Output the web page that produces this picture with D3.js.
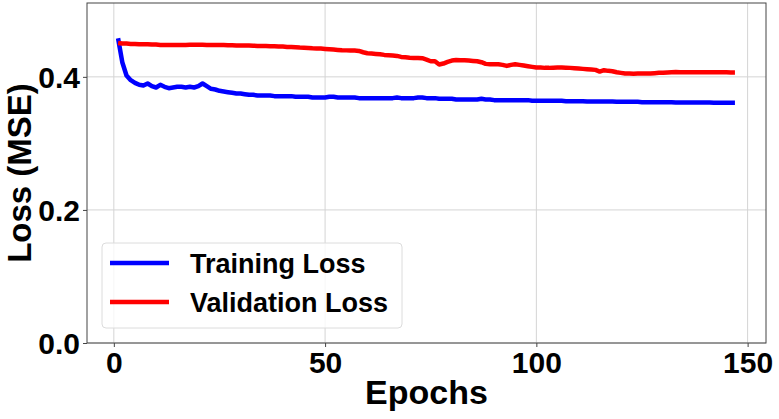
<html>
<head>
<meta charset="utf-8">
<script src="https://cdn.jsdelivr.net/npm/d3@7"></script>
<style>
  body { margin: 0; background: #fff; }
  text { font-family: "Liberation Sans", Arial, sans-serif; font-weight: bold; fill: #000; }
</style>
</head>
<body>
<script>
/* training history */
var epochs = d3.range(1, 148);

var trainLoss = [
  0.458, 0.422, 0.402, 0.395, 0.391, 0.388, 0.387, 0.390, 0.386, 0.384,
  0.388, 0.385, 0.383, 0.384, 0.385, 0.385, 0.384, 0.385, 0.384, 0.386,
  0.390, 0.386, 0.382, 0.381, 0.379, 0.378, 0.377, 0.376, 0.375, 0.375,
  0.374, 0.373, 0.373, 0.372, 0.372, 0.372, 0.372, 0.371, 0.371, 0.371,
  0.371, 0.371, 0.370, 0.370, 0.370, 0.370, 0.369, 0.369, 0.369, 0.369,
  0.370, 0.370, 0.369, 0.369, 0.369, 0.369, 0.369, 0.368, 0.368, 0.368,
  0.368, 0.368, 0.368, 0.368, 0.368, 0.368, 0.369, 0.368, 0.368, 0.368,
  0.368, 0.369, 0.369, 0.368, 0.368, 0.368, 0.367, 0.367, 0.367, 0.367,
  0.366, 0.366, 0.366, 0.366, 0.366, 0.366, 0.367, 0.366, 0.366, 0.365,
  0.365, 0.365, 0.365, 0.365, 0.365, 0.365, 0.365, 0.365, 0.364, 0.364,
  0.364, 0.364, 0.364, 0.364, 0.364, 0.364, 0.3635, 0.3635, 0.3635, 0.3635,
  0.3635, 0.363, 0.363, 0.363, 0.363, 0.363, 0.363, 0.363, 0.3625, 0.3625,
  0.3625, 0.3625, 0.3625, 0.3625, 0.362, 0.362, 0.362, 0.362, 0.362, 0.362,
  0.362, 0.362, 0.3615, 0.3615, 0.3615, 0.3615, 0.3615, 0.3615, 0.3615, 0.3615,
  0.3615, 0.361, 0.361, 0.361, 0.361, 0.361, 0.361
];

var valLoss = [
  0.451, 0.450, 0.450, 0.4495, 0.4495, 0.449, 0.449, 0.449, 0.4485, 0.4485,
  0.448, 0.448, 0.448, 0.448, 0.448, 0.448, 0.448, 0.4482, 0.4482, 0.4482,
  0.4482, 0.448, 0.448, 0.448, 0.448, 0.4478, 0.4475, 0.4475, 0.4472, 0.447,
  0.447, 0.447, 0.4468, 0.4465, 0.4465, 0.4462, 0.446, 0.446, 0.4458, 0.4455,
  0.445, 0.445, 0.4445, 0.444, 0.4438, 0.4435, 0.443, 0.4428, 0.4425, 0.442,
  0.4415, 0.441, 0.4405, 0.440, 0.4398, 0.4395, 0.4395, 0.439, 0.437, 0.4355,
  0.435, 0.4345, 0.434, 0.433, 0.4325, 0.432, 0.4315, 0.430, 0.4295, 0.4288,
  0.4285, 0.4285, 0.428, 0.426, 0.4235, 0.4235, 0.4185, 0.420, 0.4225, 0.4245,
  0.4252, 0.425, 0.425, 0.4245, 0.424, 0.4235, 0.422, 0.4195, 0.419, 0.419,
  0.419, 0.418, 0.4165, 0.418, 0.419, 0.418, 0.417, 0.416, 0.415, 0.414,
  0.414, 0.4135, 0.4135, 0.4138, 0.414, 0.414, 0.4138, 0.4135, 0.413, 0.4125,
  0.412, 0.4115, 0.411, 0.4105, 0.408, 0.410, 0.409, 0.4085, 0.407, 0.406,
  0.405, 0.405, 0.4048, 0.405, 0.405, 0.405, 0.405, 0.4055, 0.406, 0.406,
  0.4065, 0.407, 0.4072, 0.407, 0.407, 0.407, 0.407, 0.4068, 0.4068, 0.4068,
  0.407, 0.4068, 0.407, 0.4068, 0.4068, 0.4066, 0.4066
];

var xTicks = [0, 50, 100, 150];
var yTicks = [0.0, 0.2, 0.4];
var seriesNames = ["Training Loss", "Validation Loss"];
var seriesColors = ["#0000ff", "#ff0000"];

var W = 779, H = 419;
var plotL = 87, plotR = 766, plotT = 3, plotB = 343;

var svg = d3.select("body").append("svg")
    .attr("width", W)
    .attr("height", H);

var x = d3.scaleLinear().domain([-6.35, 154.35]).range([plotL, plotR]);
var y = d3.scaleLinear().domain([0, 0.511]).range([plotB, plotT]);

/* grid */
svg.append("g").selectAll("line").data(xTicks).enter().append("line")
    .attr("x1", function(d) { return x(d); }).attr("x2", function(d) { return x(d); })
    .attr("y1", plotT).attr("y2", plotB)
    .attr("stroke", "#d4d4d4").attr("stroke-width", 1);
svg.append("g").selectAll("line").data(yTicks).enter().append("line")
    .attr("x1", plotL).attr("x2", plotR)
    .attr("y1", function(d) { return y(d); }).attr("y2", function(d) { return y(d); })
    .attr("stroke", "#d4d4d4").attr("stroke-width", 1);

/* lines */
var line = d3.line()
    .x(function(d) { return x(d[0]); })
    .y(function(d) { return y(d[1]); });

[trainLoss, valLoss].forEach(function(vals, i) {
    svg.append("path")
        .datum(epochs.map(function(e, j) { return [e, vals[j]]; }))
        .attr("fill", "none")
        .attr("stroke", seriesColors[i])
        .attr("stroke-width", 4.5)
        .attr("stroke-linejoin", "round")
        .attr("d", line);
});

/* axes */
var xAxis = svg.append("g")
    .attr("transform", "translate(0," + plotB + ")")
    .call(d3.axisBottom(x).tickValues(xTicks).tickSize(4).tickPadding(5).tickFormat(d3.format("d")));
var yAxis = svg.append("g")
    .attr("transform", "translate(" + plotL + ",0)")
    .call(d3.axisLeft(y).tickValues(yTicks).tickSize(4).tickPadding(3).tickFormat(d3.format(".1f")));

[xAxis, yAxis].forEach(function(a) {
    a.select(".domain").remove();
    a.selectAll(".tick line").attr("stroke", "#444");
    a.selectAll("text").style("font-size", "30px").attr("fill", "#000");
});
yAxis.selectAll("text").attr("dy", "0.36em");

/* frame */
svg.append("rect")
    .attr("x", plotL).attr("y", plotT)
    .attr("width", plotR - plotL).attr("height", plotB - plotT)
    .attr("fill", "none").attr("stroke", "#444").attr("stroke-width", 1);

/* axis labels */
svg.append("text")
    .attr("x", (plotL + plotR) / 2).attr("y", 404)
    .attr("text-anchor", "middle")
    .style("font-size", "34px")
    .text("Epochs");
svg.append("text")
    .attr("transform", "translate(31," + ((plotT + plotB) / 2) + ") rotate(-90)")
    .attr("text-anchor", "middle")
    .style("font-size", "33px")
    .text("Loss (MSE)");

/* legend */
var lg = svg.append("g");
lg.append("rect")
    .attr("x", 102).attr("y", 243).attr("width", 300).attr("height", 85)
    .attr("rx", 4)
    .attr("fill", "#fff").attr("fill-opacity", 0.8)
    .attr("stroke", "#dcdcdc").attr("stroke-width", 1);
seriesNames.forEach(function(name, i) {
    var yy = 263 + i * 39;
    lg.append("line")
        .attr("x1", 110).attr("x2", 169)
        .attr("y1", yy).attr("y2", yy)
        .attr("stroke", seriesColors[i]).attr("stroke-width", 4.5);
    lg.append("text")
        .attr("x", 190).attr("y", yy)
        .attr("dy", "0.36em")
        .style("font-size", "27px")
        .text(name);
});
</script>
</body>
</html>
